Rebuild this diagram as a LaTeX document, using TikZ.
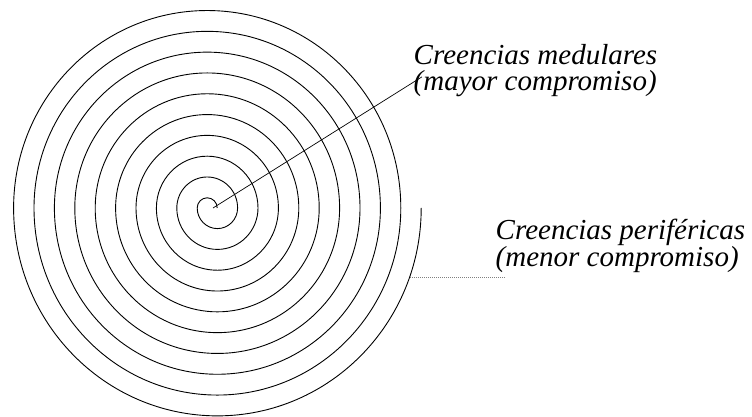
\documentclass[tikz,border=0pt]{standalone}
\usepackage{fontspec}
\setmainfont{Liberation Serif}[ItalicFont={Liberation Serif Italic}]
\usetikzlibrary{positioning}

\begin{document}
\begin{tikzpicture}[x=1pt, y=1pt,
    belief/.style={align=left, inner sep=0pt, anchor=base west,
      font=\itshape\fontsize{29}{26.5}\selectfont},
    coil/.style={line width=0.9pt},
    pointer/.style={line width=0.7pt},
    leader/.style={line width=0.7pt, gray, dash pattern=on 1pt off 1pt}]
  \useasboundingbox (0,0) rectangle (752,417);
  % spiral made of half circles round two centres
  \draw[coil] (217.2,209) \foreach \k in {0,...,9} {
      arc[start angle=0, end angle=180, x radius={10+20.4*\k},
        y radius={1.02*(10+20.4*\k)}]
      arc[start angle=180, end angle=360, x radius={20.2+20.4*\k},
        y radius={1.02*(20.2+20.4*\k)}]};
  \coordinate (core) at (213,209);
  \coordinate (rim) at (410,140);
  \node[belief] (medular) at (413.5,326)
    {Creencias medulares\\(mayor compromiso)};
  \node[belief] (periferica) at (495.5,150.5)
    {Creencias periféricas\\(menor compromiso)};
  \draw[pointer] (core) -- ([shift={(8.5,-6)}]medular.west);
  \draw[leader] (rim) -- ([shift={(9.5,-10.5)}]periferica.base west);
\end{tikzpicture}
\end{document}
